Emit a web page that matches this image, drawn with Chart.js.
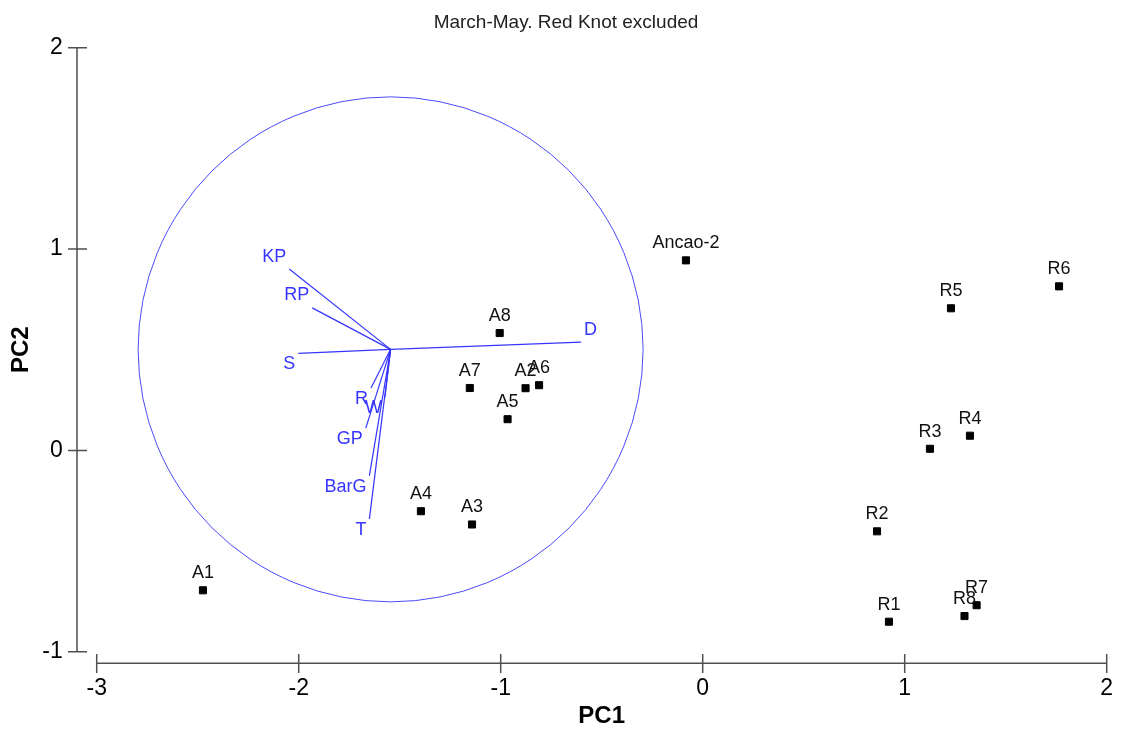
<!doctype html>
<html>

<head>
    <script src="https://cdn.jsdelivr.net/npm/chart.js"></script>
    <style type="text/css">
        body {
            margin: 0;
            background: #fff;
        }

        #pcaChart {
            display: block;
        }
    </style>
</head>

<body>
    <canvas id="pcaChart" width="1124" height="733"></canvas>

    <script>
        //--site scores--
        const siteNames = ['A1', 'A2', 'A3', 'A4', 'A5', 'A6', 'A7', 'A8', 'Ancao-2',
            'R1', 'R2', 'R3', 'R4', 'R5', 'R6', 'R7', 'R8'];
        const sitePC1 = [-2.474, -0.877, -1.142, -1.395, -0.966, -0.810, -1.153, -1.005, -0.083,
            0.922, 0.863, 1.125, 1.323, 1.229, 1.764, 1.356, 1.296];
        const sitePC2 = [-0.695, 0.309, -0.368, -0.302, 0.155, 0.324, 0.310, 0.583, 0.944,
            -0.851, -0.402, 0.008, 0.073, 0.706, 0.815, -0.769, -0.823];

        //--variable loadings (arrow tips, drawn from the common origin)--
        const varNames = ['KP', 'RP', 'S', 'D', 'R', 'W', 'GP', 'BarG', 'T'];
        const varPC1 = [-2.047, -1.933, -2.002, -0.602, -1.642, -1.573, -1.668, -1.650, -1.650];
        const varPC2 = [0.901, 0.708, 0.482, 0.538, 0.310, 0.265, 0.111, -0.125, -0.340];
        const arrowOrigin = [-1.545, 0.502];
        const circleRadius = 1.25;

        //--axis ticks--
        const xTicks = [-3, -2, -1, 0, 1, 2];
        const yTicks = [-1, 0, 1, 2];

        const BLUE = '#3535ff';
        const FONT = "'Liberation Sans', Arial, sans-serif";
        Chart.defaults.font.family = FONT;

        const siteData = siteNames.map((n, i) => ({ x: sitePC1[i], y: sitePC2[i] }));

        const arrowSets = varNames.map((n, i) => ({
            label: n,
            data: [{ x: arrowOrigin[0], y: arrowOrigin[1] }, { x: varPC1[i], y: varPC2[i] }],
            showLine: true,
            borderColor: BLUE,
            borderWidth: 1.2,
            pointRadius: 0,
            order: 2
        }));

        // circle behind everything
        const circlePlugin = {
            id: 'corrCircle',
            beforeDatasetsDraw(chart) {
                const { ctx, scales: { x, y } } = chart;
                const cx = x.getPixelForValue(arrowOrigin[0]);
                const cy = y.getPixelForValue(arrowOrigin[1]);
                const r = x.getPixelForValue(arrowOrigin[0] + circleRadius) - cx;
                ctx.save();
                ctx.strokeStyle = '#4a4aff';
                ctx.lineWidth = 1;
                ctx.beginPath();
                ctx.arc(cx, cy, r, 0, Math.PI * 2);
                ctx.stroke();
                ctx.restore();
            }
        };

        // detached axis lines with crossing tick marks
        const axisPlugin = {
            id: 'offsetAxes',
            afterDraw(chart) {
                const { ctx, chartArea, scales: { x, y } } = chart;
                const ax = chartArea.left - 19.7;
                const ay = chartArea.bottom + 11.6;
                ctx.save();
                ctx.strokeStyle = '#505050';
                ctx.lineWidth = 1.5;
                ctx.beginPath();
                ctx.moveTo(ax, y.getPixelForValue(yTicks[yTicks.length - 1]));
                ctx.lineTo(ax, y.getPixelForValue(yTicks[0]));
                yTicks.forEach(v => {
                    const py = y.getPixelForValue(v);
                    ctx.moveTo(ax - 9, py);
                    ctx.lineTo(ax + 10, py);
                });
                ctx.moveTo(x.getPixelForValue(xTicks[0]), ay);
                ctx.lineTo(x.getPixelForValue(xTicks[xTicks.length - 1]), ay);
                xTicks.forEach(v => {
                    const px = x.getPixelForValue(v);
                    ctx.moveTo(px, ay - 9.3);
                    ctx.lineTo(px, ay + 9.7);
                });
                ctx.stroke();
                ctx.restore();
            }
        };

        // names over the site squares and beside the arrow tips
        const labelPlugin = {
            id: 'markLabels',
            afterDatasetsDraw(chart) {
                const ctx = chart.ctx;
                ctx.save();
                ctx.font = '18px ' + FONT;
                ctx.textBaseline = 'alphabetic';

                ctx.fillStyle = '#111';
                ctx.textAlign = 'center';
                chart.getDatasetMeta(0).data.forEach((pt, i) => {
                    ctx.fillText(siteNames[i], pt.x, pt.y - 12);
                });

                ctx.fillStyle = BLUE;
                varNames.forEach((n, i) => {
                    const pts = chart.getDatasetMeta(i + 1).data;
                    const o = pts[0], t = pts[1];
                    const left = t.x < o.x;
                    const up = t.y < o.y;
                    ctx.textAlign = left ? 'right' : 'left';
                    ctx.fillText(n, t.x + (left ? -3 : 3), t.y + (up ? -7.5 : 16));
                });
                ctx.restore();
            }
        };

        const headerPlugin = {
            id: 'header',
            afterDraw(chart) {
                const ctx = chart.ctx;
                ctx.save();
                ctx.font = '19px ' + FONT;
                ctx.fillStyle = '#222';
                ctx.textAlign = 'center';
                ctx.textBaseline = 'alphabetic';
                ctx.fillText('March-May. Red Knot excluded', chart.width / 2 + 4, 28);
                ctx.restore();
            }
        };

        const config = {
            type: 'scatter',
            data: {
                datasets: [{
                    label: 'Sites',
                    data: siteData,
                    pointStyle: 'rect',
                    pointRadius: 5,
                    borderWidth: 1,
                    backgroundColor: '#000',
                    borderColor: '#000',
                    order: 1
                }].concat(arrowSets)
            },
            options: {
                responsive: false,
                animation: false,
                layout: { padding: { top: 45.7, right: 0, left: 0, bottom: 0 } },
                plugins: {
                    legend: { display: false },
                    tooltip: { enabled: false },
                    title: { display: false }
                },
                scales: {
                    x: {
                        type: 'linear',
                        min: -3,
                        max: 2,
                        afterBuildTicks: s => { s.ticks = xTicks.map(v => ({ value: v })); },
                        afterFit: s => {
                            s.height = 81.3;
                            s.paddingLeft = 0;
                            s.paddingRight = 17.3;
                        },
                        ticks: { color: '#000', font: { size: 23 }, padding: 23 },
                        grid: { display: false, drawTicks: false },
                        border: { display: false },
                        title: {
                            display: true, text: 'PC1', color: '#000',
                            font: { size: 24, weight: 'bold' }, padding: { top: 0, bottom: 2 }
                        }
                    },
                    y: {
                        type: 'linear',
                        min: -1,
                        max: 2,
                        afterBuildTicks: s => { s.ticks = yTicks.map(v => ({ value: v })); },
                        afterFit: s => { s.width = 96.7; },
                        ticks: { color: '#000', font: { size: 23 }, padding: 34 },
                        grid: { display: false, drawTicks: false },
                        border: { display: false },
                        title: {
                            display: true, text: 'PC2', color: '#000',
                            font: { size: 24, weight: 'bold' }, padding: { top: 7, bottom: 0 }
                        }
                    }
                }
            },
            plugins: [circlePlugin, axisPlugin, labelPlugin, headerPlugin]
        };

        const pcaChart = new Chart(document.getElementById('pcaChart').getContext('2d'), config);
    </script>

</body>

</html>
